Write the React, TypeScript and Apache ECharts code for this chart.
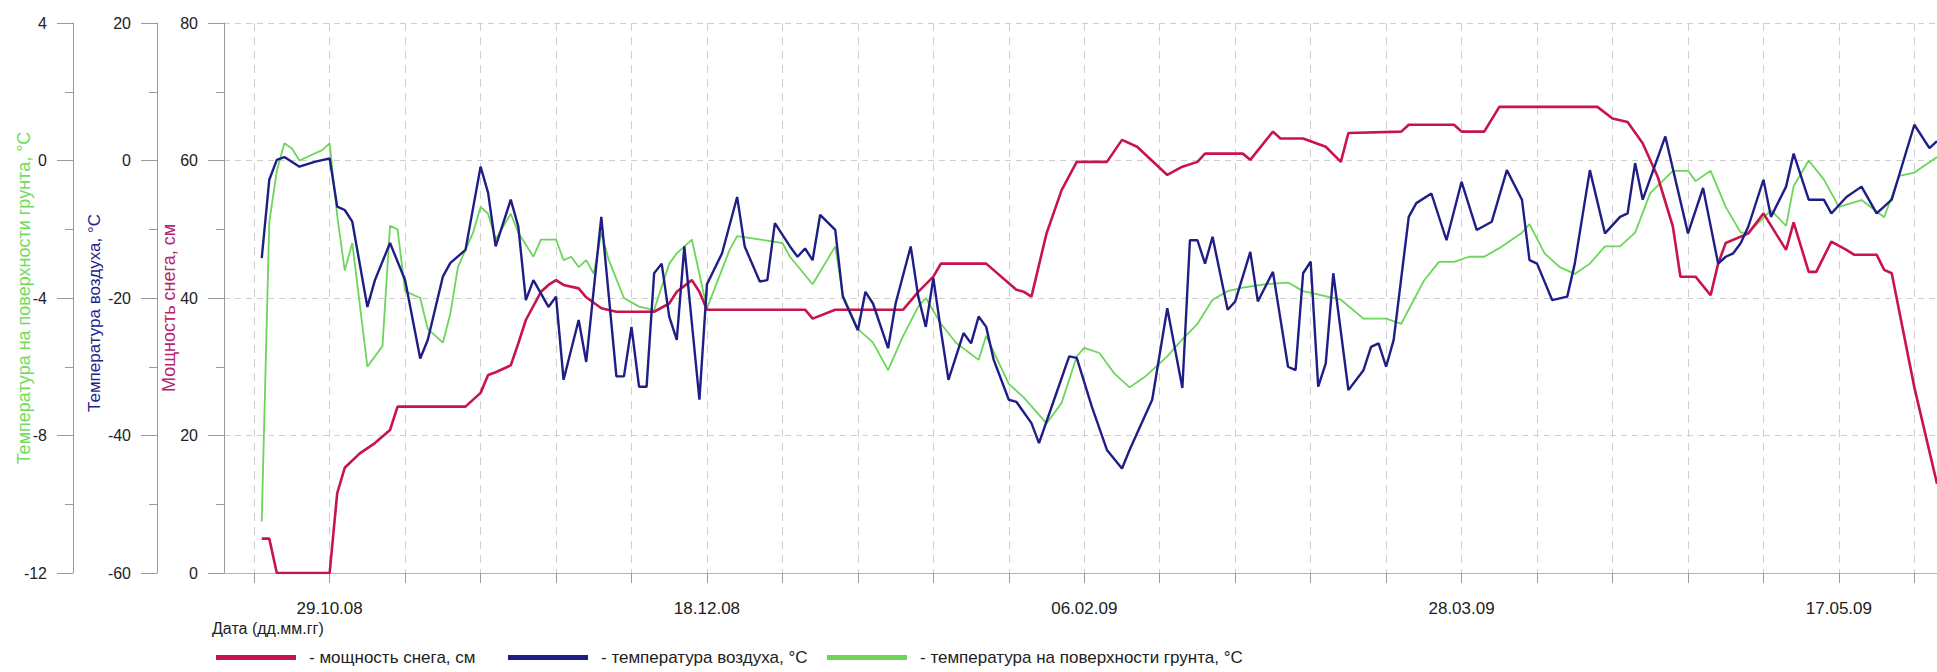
import { useEffect, useRef } from "react";
import * as echarts from "echarts";

// Daily category axis: 15.10.08 … 30.05.09
const FIRST_DAY: [number, number, number] = [2008, 9, 15];
const DAY_COUNT = 228;
// index of 29.10.08 — ticks every 10 days, labels every 50 days from it
const ANCHOR_INDEX = 14;

function buildDates(): string[] {
  const out: string[] = [];
  const d = new Date(FIRST_DAY[0], FIRST_DAY[1], FIRST_DAY[2], 12);
  for (let i = 0; i < DAY_COUNT; i++) {
    const dd = String(d.getDate()).padStart(2, "0");
    const mm = String(d.getMonth() + 1).padStart(2, "0");
    const yy = String(d.getFullYear() % 100).padStart(2, "0");
    out.push(`${dd}.${mm}.${yy}`);
    d.setDate(d.getDate() + 1);
  }
  return out;
}
const dates = buildDates();

// [day index, snow depth, cm]
const snowDepth: [number, number][] = [
  [5, 5], [6, 5], [7, 0], [14, 0], [15, 11.6], [16, 15.3], [18, 17.4], [20, 18.9],
  [22, 20.8], [23, 24.2], [32, 24.2], [34, 26.2], [35, 28.8], [36, 29.2], [38, 30.2],
  [39, 33.4], [40, 36.8], [42, 40.9], [43, 41.9], [44, 42.6], [45, 41.9], [47, 41.4],
  [48, 40.1], [50, 38.5], [52, 38], [57, 38], [59, 39.2], [60, 40.9], [62, 42.6],
  [63, 40.9], [64, 38.3], [77, 38.3], [78, 37], [81, 38.3], [90, 38.3], [92, 40.9],
  [94, 43.1], [95, 45], [101, 45], [105, 41.2], [106, 40.9], [107, 40.2], [109, 49.4],
  [111, 55.7], [113, 59.8], [117, 59.8], [119, 63], [121, 62], [125, 57.9], [127, 59.1],
  [129, 59.8], [130, 61], [135, 61], [136, 60.1], [139, 64.2], [140, 63.2], [143, 63.2],
  [146, 62], [148, 59.8], [149, 64], [156, 64.2], [157, 65.2], [163, 65.2], [164, 64.2],
  [167, 64.2], [169, 67.8], [182, 67.8], [184, 66.1], [186, 65.6], [188, 62.5],
  [190, 57.6], [192, 50.4], [193, 43.1], [195, 43.1], [197, 40.4], [198, 45], [199, 48],
  [202, 49.4], [204, 52.3], [207, 47], [208, 51], [210, 43.8], [211, 43.8], [213, 48.2],
  [215, 47], [216, 46.3], [219, 46.3], [220, 44.1], [221, 43.6], [224, 27], [227, 13],
];

// [day index, air temperature, °C]
const airTemp: [number, number][] = [
  [5, -14.2], [6, -2.8], [7, 0.1], [8, 0.5], [10, -0.9], [12, -0.2], [14, 0.3], [15, -6.7],
  [16, -7.2], [17, -8.9], [19, -21.3], [20, -17.4], [22, -12], [24, -17.4], [26, -28.8],
  [27, -26.1], [29, -16.9], [30, -14.9], [32, -13], [34, -0.9], [35, -4.7], [36, -12.5],
  [38, -5.7], [39, -9.6], [40, -20.3], [41, -17.4], [43, -21.3], [44, -19.8], [45, -31.9],
  [47, -23.2], [48, -29.3], [50, -8.2], [52, -31.4], [53, -31.4], [54, -24.2], [55, -32.9],
  [56, -32.9], [57, -16.4], [58, -15], [59, -22.7], [60, -26.1], [61, -12.5], [63, -34.8],
  [64, -18], [66, -13.5], [68, -5.3], [69, -12.5], [71, -17.6], [72, -17.4], [73, -9.1],
  [75, -12.5], [76, -14], [77, -12.8], [78, -14.5], [79, -7.9], [81, -10.1], [82, -19.8],
  [84, -24.7], [85, -19.1], [86, -20.8], [88, -27.3], [89, -20.8], [91, -12.5], [92, -19.8],
  [93, -24.2], [94, -17.1], [95, -24.7], [96, -31.9], [98, -25.1], [99, -26.6], [100, -22.7],
  [101, -24.2], [102, -29], [104, -34.8], [105, -35.1], [107, -38.2], [108, -41.1],
  [110, -34.8], [112, -28.5], [113, -28.7], [115, -35.8], [117, -42.1], [119, -44.8],
  [120, -42.1], [123, -34.8], [125, -21.5], [127, -33.1], [128, -11.6], [129, -11.6],
  [130, -15], [131, -11.1], [133, -21.7], [134, -20.5], [136, -13.3], [137, -20.5],
  [139, -16.2], [141, -30], [142, -30.5], [143, -16.4], [144, -14.7], [145, -32.9],
  [146, -29.5], [147, -16.4], [149, -33.4], [151, -30.5], [152, -27.1], [153, -26.6],
  [154, -30], [155, -26.1], [157, -8.2], [158, -6.2], [160, -4.8], [162, -11.6], [164, -3.1],
  [166, -10.1], [168, -8.9], [170, -1.4], [172, -5.7], [173, -14.5], [174, -15], [176, -20.3],
  [178, -19.8], [179, -15], [181, -1.4], [183, -10.6], [185, -8.2], [186, -7.7], [187, -0.4],
  [188, -5.7], [191, 3.5], [194, -10.6], [196, -4], [198, -15], [199, -14], [200, -13.5],
  [201, -12], [202, -9.6], [204, -2.8], [205, -8.2], [207, -3.8], [208, 1], [210, -5.7],
  [212, -5.7], [213, -7.7], [215, -5.3], [217, -3.8], [219, -7.7], [221, -5.7], [224, 5.2],
  [226, 1.8], [227, 2.8],
];

// [day index, ground surface temperature, °C]
const groundTemp: [number, number][] = [
  [5, -10.5], [6, -1.8], [7, -0.3], [8, 0.5], [9, 0.35], [10, 0], [13, 0.3], [14, 0.5],
  [15, -1.6], [16, -3.2], [17, -2.4], [19, -6], [21, -5.4], [22, -1.9], [23, -2], [24, -3.8],
  [26, -4], [27, -4.9], [29, -5.3], [30, -4.45], [31, -3.1], [33, -2.1], [34, -1.35],
  [35, -1.55], [36, -2.3], [38, -1.55], [39, -2.1], [41, -2.8], [42, -2.3], [44, -2.3],
  [45, -2.9], [46, -2.8], [47, -3.1], [48, -2.9], [49, -3.3], [50, -2.1], [51, -2.9],
  [53, -4], [55, -4.25], [57, -4.35], [59, -3], [60, -2.7], [62, -2.3], [63, -3.3],
  [64, -4.3], [67, -2.6], [68, -2.2], [74, -2.4], [75, -2.8], [78, -3.6], [81, -2.5],
  [82, -3.9], [84, -4.9], [86, -5.3], [88, -6.1], [90, -5.1], [92, -4.25], [93, -4],
  [95, -4.75], [97, -5.3], [100, -5.8], [101, -5.1], [104, -6.5], [106, -6.9], [109, -7.65],
  [111, -7.05], [113, -5.7], [114, -5.45], [116, -5.6], [118, -6.2], [120, -6.6], [122, -6.3],
  [125, -5.7], [127, -5.2], [129, -4.75], [131, -4.05], [133, -3.8], [135, -3.7], [138, -3.6],
  [141, -3.55], [143, -3.8], [148, -4.05], [151, -4.6], [154, -4.6], [156, -4.75],
  [159, -3.5], [161, -2.95], [163, -2.95], [165, -2.8], [167, -2.8], [169, -2.55],
  [172, -2.1], [173, -1.85], [175, -2.7], [177, -3.1], [179, -3.3], [181, -3], [183, -2.5],
  [185, -2.5], [187, -2.1], [189, -0.95], [192, -0.3], [194, -0.3], [195, -0.6], [197, -0.3],
  [199, -1.35], [201, -2.1], [202, -2.1], [205, -1.45], [207, -1.9], [208, -0.75], [210, 0],
  [212, -0.55], [214, -1.35], [217, -1.15], [220, -1.65], [222, -0.45], [224, -0.35],
  [227, 0.1],
];

const SNOW_NAME = "мощность снега, см";
const AIR_NAME = "температура воздуха, °C";
const GROUND_NAME = "температура на поверхности грунта, °C";

const SNOW_COLOR = "#c8144a";
const AIR_COLOR = "#1e1e86";
const GROUND_COLOR = "#6bd65a";

const FONT = "'Liberation Sans', Arial, sans-serif";
const AXIS_GREY = "#9a9a9a";
const GRID_GREY = "#cfcfcf";

function leftAxis(opts: {
  name: string;
  nameColor: string;
  min: number;
  max: number;
  interval: number;
  offset: number;
  nameGap: number;
  nameShift: number;
  nameSize: number;
  split: boolean;
}) {
  return {
    type: "value",
    position: "left",
    offset: opts.offset,
    min: opts.min,
    max: opts.max,
    interval: opts.interval,
    name: opts.name,
    nameLocation: "middle",
    nameRotate: 90,
    nameGap: opts.nameGap,
    nameMoveOverlap: false,
    nameTextStyle: {
      color: opts.nameColor,
      fontSize: opts.nameSize,
      fontFamily: FONT,
      padding: [0, opts.nameShift, 0, 0],
    },
    axisLine: { show: true, lineStyle: { color: AXIS_GREY, width: 1 } },
    axisTick: { show: true, length: 16, lineStyle: { color: AXIS_GREY } },
    minorTick: { show: true, splitNumber: 2, length: 8, lineStyle: { color: AXIS_GREY } },
    axisLabel: { margin: 26, fontSize: 16, color: "#222", fontFamily: FONT },
    splitLine: {
      show: opts.split,
      lineStyle: { color: GRID_GREY, type: [6, 5], width: 1 },
    },
    minorSplitLine: { show: false },
  };
}

function legendFor(name: string, left: number) {
  return {
    data: [name],
    left,
    top: 644,
    orient: "horizontal",
    icon: "rect",
    itemWidth: 80,
    itemHeight: 5,
    formatter: "- {name}",
    textStyle: { fontSize: 17, color: "#222", fontFamily: FONT, padding: [0, 0, 0, 8] },
    selectedMode: false,
  };
}

export default function App() {
  const ref = useRef<HTMLDivElement>(null);

  useEffect(() => {
    document.body.style.margin = "0";
    if (!ref.current) return;
    const chart = echarts.init(ref.current, undefined, { renderer: "svg" });

    const tickEvery10 = (i: number) => (i - ANCHOR_INDEX) % 10 === 0;
    const labelEvery50 = (i: number) => (i - ANCHOR_INDEX) % 50 === 0;

    chart.setOption({
      animation: false,
      backgroundColor: "#ffffff",
      textStyle: { fontFamily: FONT },
      grid: { left: 224, right: 0, top: 23, bottom: 99, containLabel: false, outerBoundsMode: "none" },
      xAxis: {
        type: "category",
        data: dates,
        boundaryGap: false,
        axisLine: { show: true, lineStyle: { color: "#b4b4b4", width: 1 } },
        axisTick: { show: true, interval: tickEvery10, length: 10, lineStyle: { color: AXIS_GREY } },
        axisLabel: {
          interval: labelEvery50,
          margin: 27,
          fontSize: 17,
          color: "#222",
          fontFamily: FONT,
          hideOverlap: false,
        },
        splitLine: {
          show: true,
          interval: tickEvery10,
          lineStyle: { color: GRID_GREY, type: [8, 6], width: 1 },
        },
      },
      yAxis: [
        leftAxis({ name: "Мощность снега, см", nameColor: "#b8236c", min: 0, max: 80, interval: 20, offset: 0, nameGap: 46, nameShift: 20, nameSize: 18, split: true }),
        leftAxis({ name: "Температура воздуха, °C", nameColor: "#23238f", min: -60, max: 20, interval: 20, offset: 67, nameGap: 54, nameShift: 30, nameSize: 17, split: false }),
        leftAxis({ name: "Температура на поверхности грунта, °C", nameColor: "#6fdc5c", min: -12, max: 4, interval: 4, offset: 151, nameGap: 40, nameShift: 0, nameSize: 18, split: false }),
      ],
      legend: [
        legendFor(SNOW_NAME, 211),
        legendFor(AIR_NAME, 503),
        legendFor(GROUND_NAME, 822),
      ],
      graphic: [
        {
          type: "text",
          left: 212,
          top: 620,
          style: { text: "Дата (дд.мм.гг)", fontSize: 16, fill: "#222", fontFamily: FONT },
        },
      ],
      series: [
        {
          name: SNOW_NAME,
          type: "line",
          yAxisIndex: 0,
          data: snowDepth,
          showSymbol: false,
          z: 3,
          color: SNOW_COLOR,
          lineStyle: { color: SNOW_COLOR, width: 2.6 },
        },
        {
          name: AIR_NAME,
          type: "line",
          yAxisIndex: 1,
          data: airTemp,
          showSymbol: false,
          z: 4,
          color: AIR_COLOR,
          lineStyle: { color: AIR_COLOR, width: 2.4 },
        },
        {
          name: GROUND_NAME,
          type: "line",
          yAxisIndex: 2,
          data: groundTemp,
          showSymbol: false,
          z: 2,
          color: GROUND_COLOR,
          lineStyle: { color: GROUND_COLOR, width: 1.8 },
        },
      ],
    });

    return () => chart.dispose();
  }, []);

  return <div ref={ref} style={{ width: 1937, height: 672 }} />;
}
